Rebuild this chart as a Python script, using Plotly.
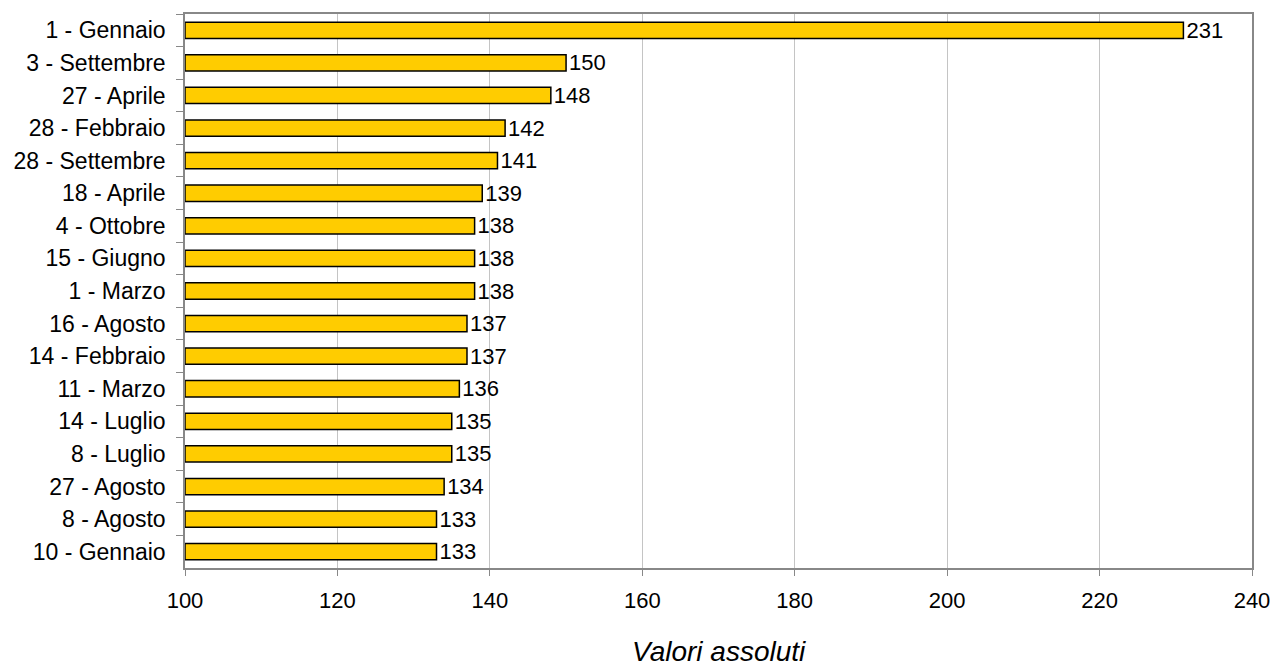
import plotly.graph_objects as go

categories = ["1 - Gennaio", "3 - Settembre", "27 - Aprile", "28 - Febbraio", "28 - Settembre",
              "18 - Aprile", "4 - Ottobre", "15 - Giugno", "1 - Marzo", "16 - Agosto",
              "14 - Febbraio", "11 - Marzo", "14 - Luglio", "8 - Luglio", "27 - Agosto",
              "8 - Agosto", "10 - Gennaio"]
values = [231, 150, 148, 142, 141, 139, 138, 138, 138, 137, 137, 136, 135, 135, 134, 133, 133]
x_ticks = [100, 120, 140, 160, 180, 200, 220, 240]
axis_min = 100

FONT = "Liberation Sans, Arial, sans-serif"

fig = go.Figure(go.Bar(
    x=[v - axis_min for v in values], y=categories, orientation="h",
    base=axis_min,
    marker=dict(color="#FFCC00", line=dict(color="#000000", width=1.5)),
    text=[str(v) for v in values], textposition="outside",
    constraintext="none",
    textfont=dict(family=FONT, size=22, color="#000"),
    cliponaxis=False,
    hoverinfo="skip",
))

fig.update_layout(
    width=1274, height=666,
    margin=dict(l=185, r=22, t=14, b=98),
    plot_bgcolor="white", paper_bgcolor="white",
    bargap=0.5,
    showlegend=False,
    font=dict(family=FONT, size=22, color="#000"),
    annotations=[dict(
        text="<i>Valori assoluti</i>", xref="paper", yref="paper",
        x=0.5, y=-83 / 554, xanchor="center", yanchor="middle",
        showarrow=False, font=dict(family=FONT, size=28, color="#000"),
    )],
)
fig.update_xaxes(
    range=[100, 240], tickvals=x_ticks, ticktext=[str(t) for t in x_ticks],
    showgrid=True, gridcolor="#c4c4c4", gridwidth=1,
    showline=True, linecolor="#888888", linewidth=1.5, mirror=True,
    ticks="outside", ticklen=6, tickcolor="#888888", ticklabelstandoff=6,
    tickfont=dict(size=22), zeroline=False, automargin=False,
)
fig.update_yaxes(
    autorange="reversed", type="category",
    showline=True, linecolor="#888888", linewidth=1.5, mirror=True,
    ticks="outside", ticklen=7, tickcolor="#888888", tickson="boundaries",
    ticklabelstandoff=13,
    tickfont=dict(size=23), showgrid=False, automargin=False,
)
fig.write_html(
    "out.html",
    config={"displayModeBar": False},
    post_script="document.body.style.margin='0';document.body.style.overflow='hidden';",
)
